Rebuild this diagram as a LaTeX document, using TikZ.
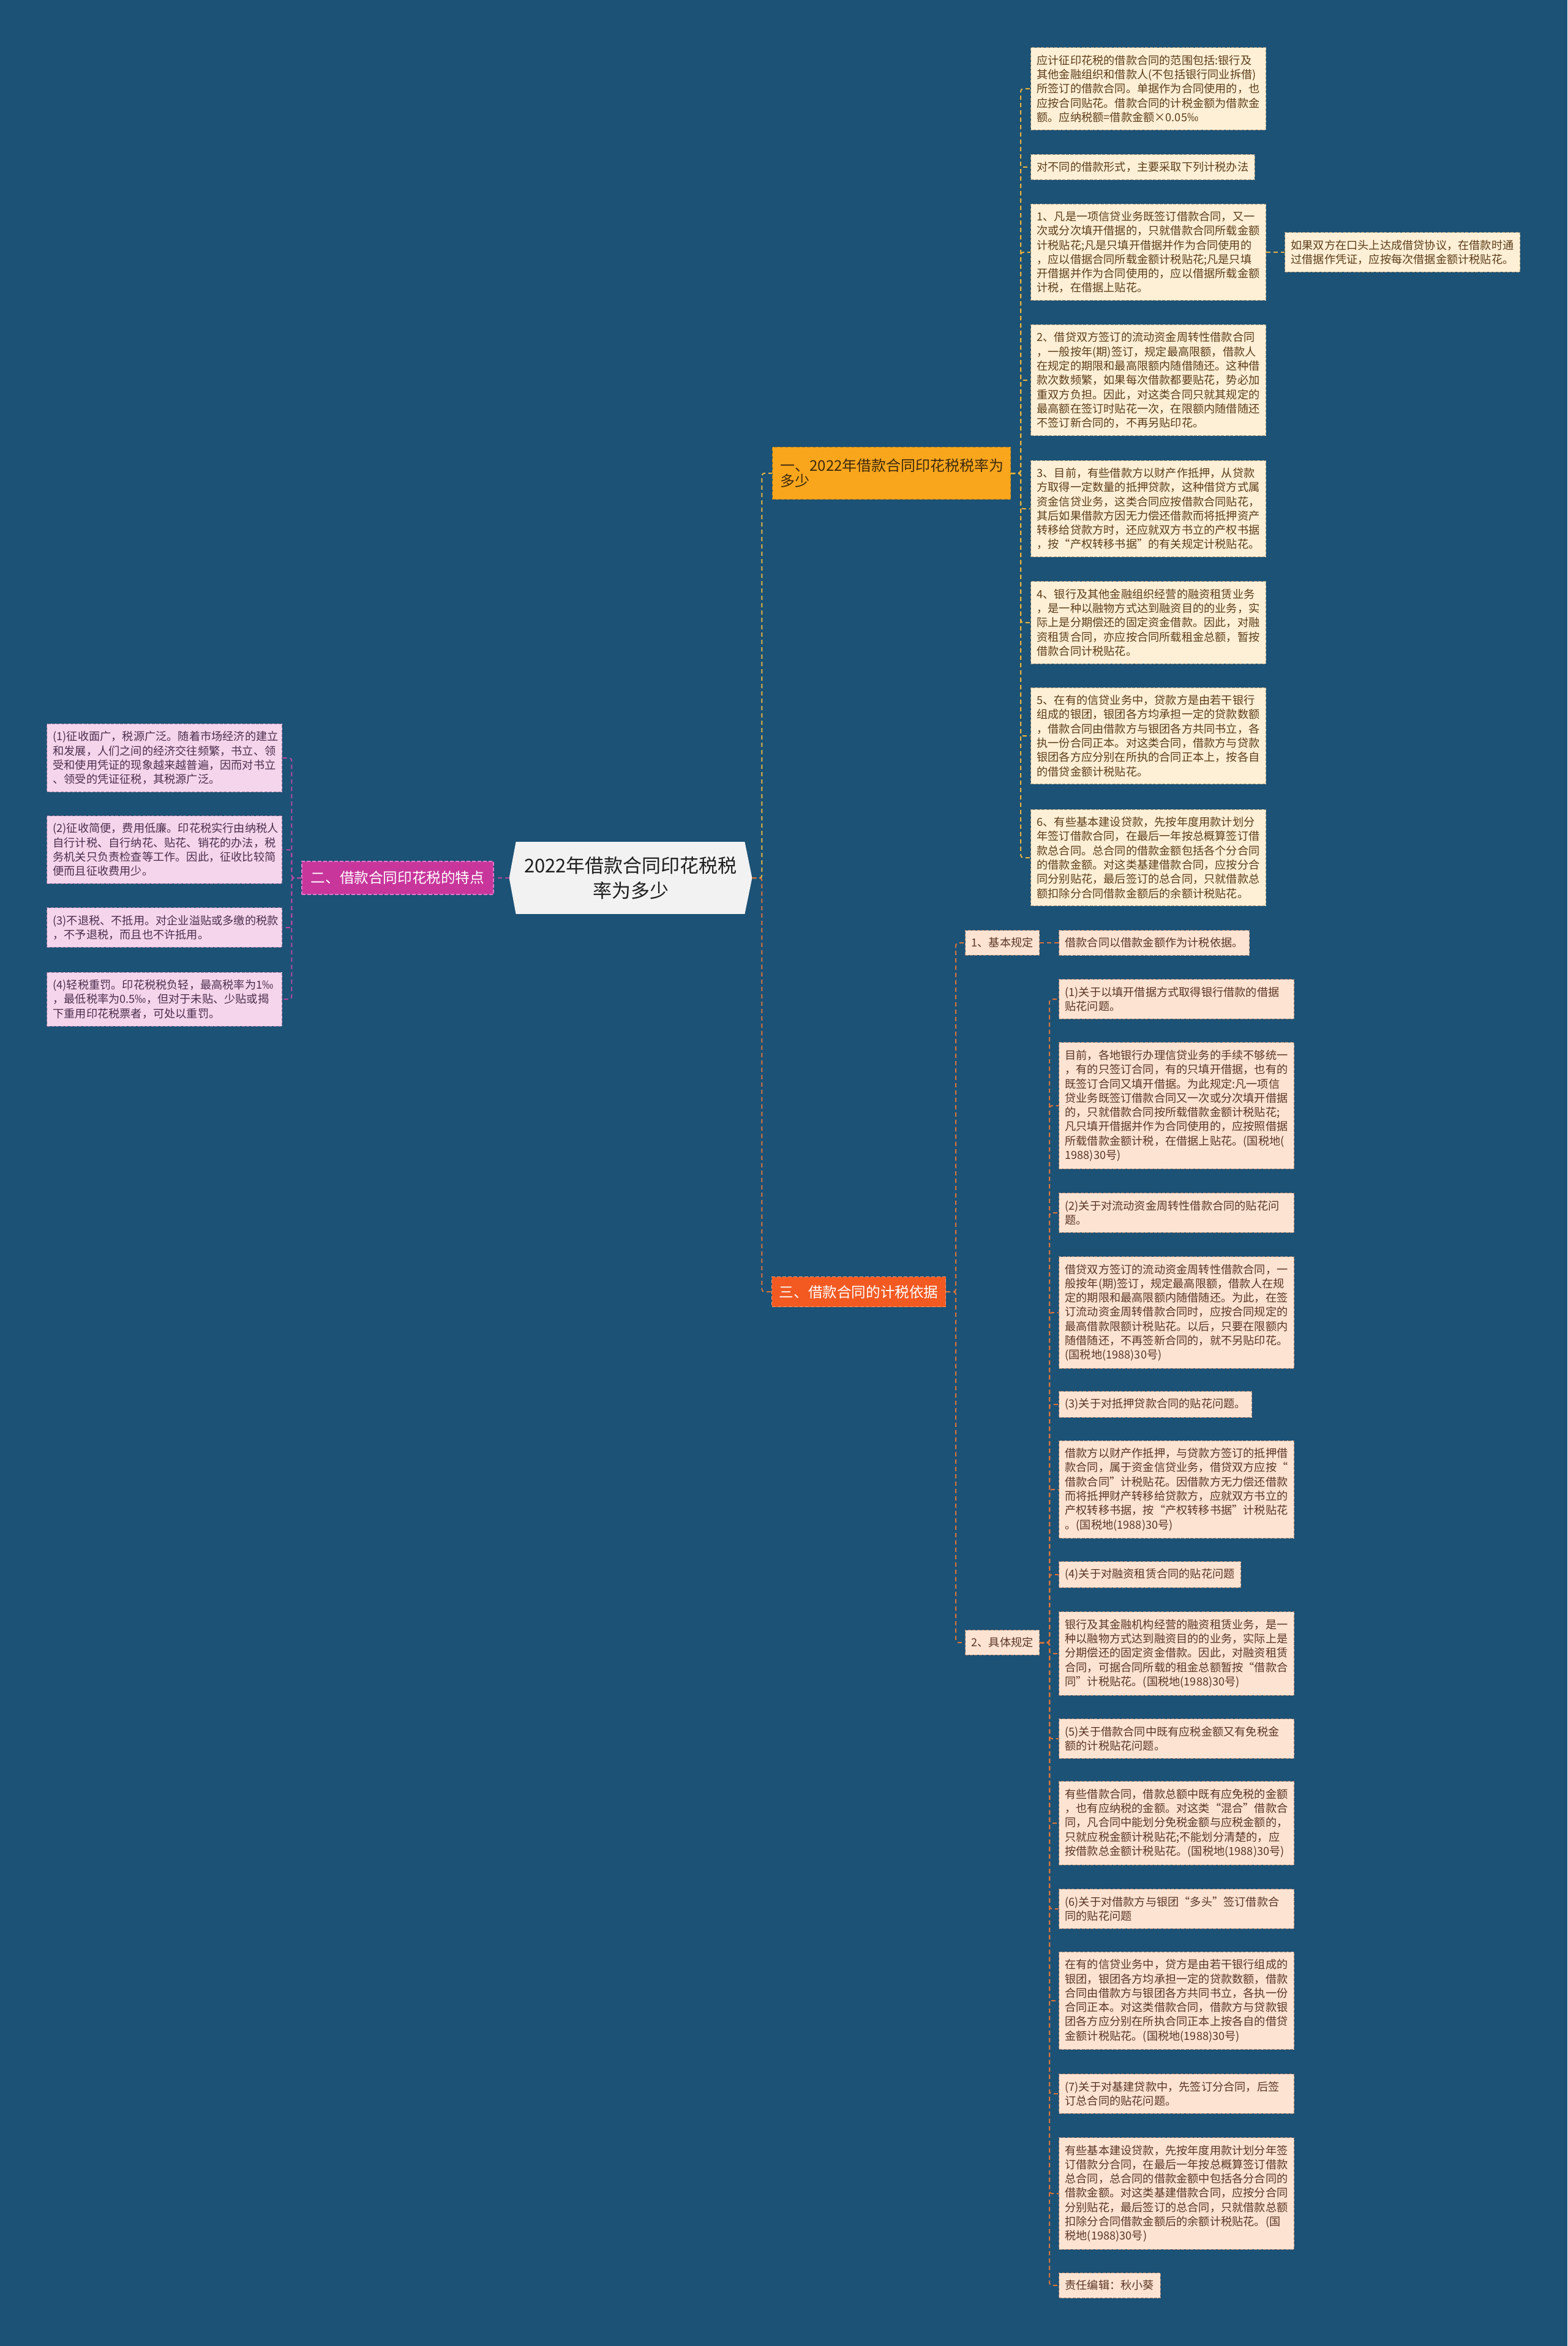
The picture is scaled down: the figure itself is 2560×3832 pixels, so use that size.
\documentclass[tikz,border=0pt]{standalone}
\usepackage{fontspec}
\setmainfont{Noto Sans CJK SC}
\definecolor{bgblue}{HTML}{1C5276}
\definecolor{rootfill}{HTML}{F2F2F2}
\definecolor{rootink}{HTML}{1E1E1E}
\definecolor{bafill}{HTML}{F9A61D}
\definecolor{baline}{HTML}{B8801A}
\definecolor{baink}{HTML}{3E2A0E}
\definecolor{bbfill}{HTML}{C8369C}
\definecolor{bbline}{HTML}{E07ACB}
\definecolor{bcfill}{HTML}{F25A22}
\definecolor{bcline}{HTML}{F79A6E}
\definecolor{lafill}{HTML}{FEF0D6}
\definecolor{laline}{HTML}{A8977A}
\definecolor{laink}{HTML}{5C3D1A}
\definecolor{lbfill}{HTML}{F5D5EC}
\definecolor{lbline}{HTML}{A07CA0}
\definecolor{lbink}{HTML}{4B2F4E}
\definecolor{lcfill}{HTML}{FDE3D2}
\definecolor{lcline}{HTML}{A88270}
\definecolor{lcink}{HTML}{5B3625}
\definecolor{linka}{HTML}{E8B23C}
\definecolor{linkb}{HTML}{B3489F}
\definecolor{linkc}{HTML}{DA7238}
\pgfdeclarelayer{back}
\pgfsetlayers{back,main}
\tikzset{
  leafbase/.style={font=\fontsize{9.1}{11.65}\selectfont, align=left,
    inner xsep=5pt, inner ysep=6pt, line width=0.5pt,
    dash pattern=on 2.5pt off 1.2pt},
  leafa/.style={leafbase, fill=lafill, draw=laline, text=laink, anchor=west},
  leafb/.style={leafbase, fill=lbfill, draw=lbline, text=lbink, anchor=east},
  leafc/.style={leafbase, fill=lcfill, draw=lcline, text=lcink, anchor=west},
  longtext/.style={text width=182pt},
  brancha/.style={font=\fontsize{12}{12.5}\selectfont, align=left,
    fill=bafill, draw=baline, text=baink, line width=0.6pt,
    dash pattern=on 3pt off 1.5pt, text width=181.5pt,
    inner xsep=6.5pt, inner ysep=9.5pt, anchor=west},
  branchb/.style={font=\fontsize{11.8}{14}\selectfont, fill=bbfill,
    draw=bbline, text=white, line width=0.6pt, dash pattern=on 3pt off 1.5pt,
    minimum width=156.5pt, minimum height=27pt},
  branchc/.style={font=\fontsize{11.8}{14}\selectfont, fill=bcfill,
    draw=bcline, text=white, line width=0.6pt, dash pattern=on 3pt off 1.5pt,
    minimum width=142pt, minimum height=24.5pt, anchor=west},
  roottext/.style={font=\fontsize{15.5}{20.75}\selectfont, align=center,
    text=rootink, minimum width=198pt, minimum height=58.5pt},
  link/.style={line width=1pt, dash pattern=on 3.5pt off 2.5pt,
    rounded corners=2pt},
}
\begin{document}
\begin{tikzpicture}[x=0.5pt, y=-0.5pt]
  % Fondo
  \begin{pgfonlayer}{back}
    \fill[bgblue] (0,0) rectangle (2560,3832);
  \end{pgfonlayer}
  \useasboundingbox (0,0) rectangle (2560,3832);

  % Nodo central
  \node[roottext] (root) at (1030,1434) {2022年借款合同印花税税\\率为多少};
  \begin{pgfonlayer}{back}
    \fill[rootfill] ([xshift=5.5pt]root.north west) -- ([xshift=-6pt]root.north east)
      -- (root.east) -- ([xshift=-6pt]root.south east)
      -- ([xshift=5.5pt]root.south west) -- (root.west) -- cycle;
  \end{pgfonlayer}

  % Ramas principales
  \node[brancha] (b1) at (1261,773) {一、2022年借款合同印花税税率为\\多少};
  \node[branchb] (b2) at (649.5,1434) {二、借款合同印花税的特点};
  \node[branchc] (b3) at (1260,2110) {三、借款合同的计税依据};

  % Hojas de la rama uno
  \node[leafa, longtext] (l1) at (1683,145) {应计征印花税的借款合同的范围包括:银行及\\其他金融组织和借款人(不包括银行同业拆借)\\所签订的借款合同。单据作为合同使用的，也\\应按合同贴花。借款合同的计税金额为借款金\\额。应纳税额=借款金额×0.05‰};
  \node[leafa] (l2) at (1683,273) {对不同的借款形式，主要采取下列计税办法};
  \node[leafa, longtext] (l3) at (1683,412) {1、凡是一项信贷业务既签订借款合同，又一\\次或分次填开借据的，只就借款合同所载金额\\计税贴花;凡是只填开借据并作为合同使用的\\，应以借据合同所载金额计税贴花;凡是只填\\开借据并作为合同使用的，应以借据所载金额\\计税，在借据上贴花。};
  \node[leafa, longtext] (s1) at (2098,412) {如果双方在口头上达成借贷协议，在借款时通\\过借据作凭证，应按每次借据金额计税贴花。};
  \node[leafa, longtext] (l4) at (1683,621) {2、借贷双方签订的流动资金周转性借款合同\\，一般按年(期)签订，规定最高限额，借款人\\在规定的期限和最高限额内随借随还。这种借\\款次数频繁，如果每次借款都要贴花，势必加\\重双方负担。因此，对这类合同只就其规定的\\最高额在签订时贴花一次，在限额内随借随还\\不签订新合同的，不再另贴印花。};
  \node[leafa, longtext] (l5) at (1683,831) {3、目前，有些借款方以财产作抵押，从贷款\\方取得一定数量的抵押贷款，这种借贷方式属\\资金信贷业务，这类合同应按借款合同贴花，\\其后如果借款方因无力偿还借款而将抵押资产\\转移给贷款方时，还应就双方书立的产权书据\\，按“产权转移书据”的有关规定计税贴花。};
  \node[leafa, longtext] (l6) at (1683,1017) {4、银行及其他金融组织经营的融资租赁业务\\，是一种以融物方式达到融资目的的业务，实\\际上是分期偿还的固定资金借款。因此，对融\\资租赁合同，亦应按合同所载租金总额，暂按\\借款合同计税贴花。};
  \node[leafa, longtext] (l7) at (1683,1202) {5、在有的信贷业务中，贷款方是由若干银行\\组成的银团，银团各方均承担一定的贷款数额\\，借款合同由借款方与银团各方共同书立，各\\执一份合同正本。对这类合同，借款方与贷款\\银团各方应分别在所执的合同正本上，按各自\\的借贷金额计税贴花。};
  \node[leafa, longtext] (l8) at (1683,1401) {6、有些基本建设贷款，先按年度用款计划分\\年签订借款合同，在最后一年按总概算签订借\\款总合同。总合同的借款金额包括各个分合同\\的借款金额。对这类基建借款合同，应按分合\\同分别贴花，最后签订的总合同，只就借款总\\额扣除分合同借款金额后的余额计税贴花。};

  % Hojas de la rama dos
  \node[leafb, longtext] (p1) at (461,1238) {(1)征收面广，税源广泛。随着市场经济的建立\\和发展，人们之间的经济交往频繁，书立、领\\受和使用凭证的现象越来越普遍，因而对书立\\、领受的凭证征税，其税源广泛。};
  \node[leafb, longtext] (p2) at (461,1388) {(2)征收简便，费用低廉。印花税实行由纳税人\\自行计税、自行纳花、贴花、销花的办法，税\\务机关只负责检查等工作。因此，征收比较简\\便而且征收费用少。};
  \node[leafb, longtext] (p3) at (461,1515) {(3)不退税、不抵用。对企业溢贴或多缴的税款\\，不予退税，而且也不许抵用。};
  \node[leafb, longtext] (p4) at (461,1632) {(4)轻税重罚。印花税税负轻，最高税率为1‰\\，最低税率为0.5‰，但对于未贴、少贴或揭\\下重用印花税票者，可处以重罚。};

  % Hojas de la rama tres
  \node[leafc] (k1) at (1576,1540) {1、基本规定};
  \node[leafc] (k2) at (1576,2683) {2、具体规定};
  \node[leafc] (m1) at (1729,1540) {借款合同以借款金额作为计税依据。};
  \node[leafc, longtext] (q1) at (1729,1632) {(1)关于以填开借据方式取得银行借款的借据\\贴花问题。};
  \node[leafc, longtext] (q2) at (1729,1806) {目前，各地银行办理信贷业务的手续不够统一\\，有的只签订合同，有的只填开借据，也有的\\既签订合同又填开借据。为此规定:凡一项信\\贷业务既签订借款合同又一次或分次填开借据\\的，只就借款合同按所载借款金额计税贴花;\\凡只填开借据并作为合同使用的，应按照借据\\所载借款金额计税，在借据上贴花。(国税地(\\1988)30号)};
  \node[leafc, longtext] (q3) at (1729,1981) {(2)关于对流动资金周转性借款合同的贴花问\\题。};
  \node[leafc, longtext] (q4) at (1729,2144) {借贷双方签订的流动资金周转性借款合同，一\\般按年(期)签订，规定最高限额，借款人在规\\定的期限和最高限额内随借随还。为此，在签\\订流动资金周转借款合同时，应按合同规定的\\最高借款限额计税贴花。以后，只要在限额内\\随借随还，不再签新合同的，就不另贴印花。\\(国税地(1988)30号)};
  \node[leafc] (q5) at (1729,2294) {(3)关于对抵押贷款合同的贴花问题。};
  \node[leafc, longtext] (q6) at (1729,2433) {借款方以财产作抵押，与贷款方签订的抵押借\\款合同，属于资金信贷业务，借贷双方应按“\\借款合同”计税贴花。因借款方无力偿还借款\\而将抵押财产转移给贷款方，应就双方书立的\\产权转移书据，按“产权转移书据”计税贴花\\。(国税地(1988)30号)};
  \node[leafc] (q7) at (1729,2572) {(4)关于对融资租赁合同的贴花问题};
  \node[leafc, longtext] (q8) at (1729,2701) {银行及其金融机构经营的融资租赁业务，是一\\种以融物方式达到融资目的的业务，实际上是\\分期偿还的固定资金借款。因此，对融资租赁\\合同，可据合同所载的租金总额暂按“借款合\\同”计税贴花。(国税地(1988)30号)};
  \node[leafc, longtext] (q9) at (1729,2840) {(5)关于借款合同中既有应税金额又有免税金\\额的计税贴花问题。};
  \node[leafc, longtext] (q10) at (1729,2978) {有些借款合同，借款总额中既有应免税的金额\\，也有应纳税的金额。对这类“混合”借款合\\同，凡合同中能划分免税金额与应税金额的，\\只就应税金额计税贴花;不能划分清楚的，应\\按借款总金额计税贴花。(国税地(1988)30号)};
  \node[leafc, longtext] (q11) at (1729,3118) {(6)关于对借款方与银团“多头”签订借款合\\同的贴花问题};
  \node[leafc, longtext] (q12) at (1729,3268) {在有的信贷业务中，贷方是由若干银行组成的\\银团，银团各方均承担一定的贷款数额，借款\\合同由借款方与银团各方共同书立，各执一份\\合同正本。对这类借款合同，借款方与贷款银\\团各方应分别在所执合同正本上按各自的借贷\\金额计税贴花。(国税地(1988)30号)};
  \node[leafc, longtext] (q13) at (1729,3420) {(7)关于对基建贷款中，先签订分合同，后签\\订总合同的贴花问题。};
  \node[leafc, longtext] (q14) at (1729,3583) {有些基本建设贷款，先按年度用款计划分年签\\订借款分合同，在最后一年按总概算签订借款\\总合同，总合同的借款金额中包括各分合同的\\借款金额。对这类基建借款合同，应按分合同\\分别贴花，最后签订的总合同，只就借款总额\\扣除分合同借款金额后的余额计税贴花。(国\\税地(1988)30号)};
  \node[leafc] (q15) at (1729,3733) {责任编辑：秋小葵};

  % Conectores
  \draw[link, linka] (root.east) -- ++(8pt,0) |- (b1.west);
  \draw[link, linkc] (root.east) -- ++(8pt,0) |- (b3.west);
  \draw[link, linkb] (root.west) -- (b2.east);
  \foreach \n in {l1,l2,l3,l4,l5,l6,l7,l8}
    \draw[link, linka] (b1.east) -- ++(8pt,0) |- (\n.west);
  \draw[link, linka] (l3.east) -- (s1.west);
  \foreach \n in {p1,p2,p3,p4}
    \draw[link, linkb] (b2.west) -- ++(-8pt,0) |- (\n.east);
  \foreach \n in {k1,k2}
    \draw[link, linkc] (b3.east) -- ++(8pt,0) |- (\n.west);
  \draw[link, linkc] (k1.east) -- (m1.west);
  \foreach \n in {q1,q2,q3,q4,q5,q6,q7,q8,q9,q10,q11,q12,q13,q14,q15}
    \draw[link, linkc] (k2.east) -- ++(8pt,0) |- (\n.west);
\end{tikzpicture}
\end{document}
